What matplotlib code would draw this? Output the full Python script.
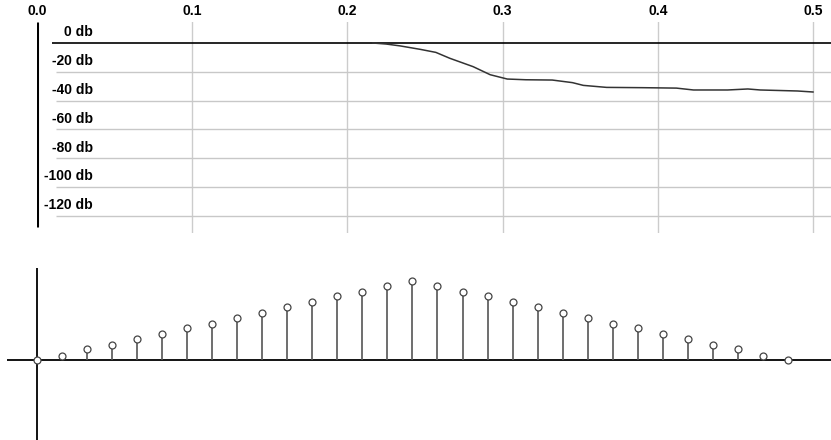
import numpy as np
import matplotlib.pyplot as plt

plt.rcParams['font.family'] = ['Liberation Sans', 'DejaVu Sans']

# frequency response (normalised frequency, dB)
freq = [0.2165, 0.225, 0.234, 0.247, 0.257, 0.266, 0.281, 0.292, 0.303, 0.315,
        0.332, 0.345, 0.352, 0.367, 0.39, 0.412, 0.423, 0.445, 0.458, 0.466,
        0.49, 0.5]
db = [0, -0.7, -2, -4.4, -6.5, -10.6, -16.4, -22, -25, -25.5,
      -25.7, -27.5, -29.4, -30.8, -31, -31.3, -32.6, -32.6, -31.9, -32.6,
      -33.3, -34]
xticks = [0.0, 0.1, 0.2, 0.3, 0.4, 0.5]
db_ticks = [0, -20, -40, -60, -80, -100, -120]

# filter coefficients (impulse response)
half = [0, 0.054, 0.135, 0.19, 0.27, 0.325, 0.40, 0.46, 0.535, 0.60,
        0.67, 0.73, 0.81, 0.865, 0.94, 1.0]
coeffs = half + half[-2::-1]
n = np.arange(len(coeffs))

W, H = 831, 440
fig = plt.figure(figsize=(W / 100, H / 100), dpi=100)

# ---- top: magnitude response
ax = fig.add_axes([37 / W, 1 - 233 / H, 1 - 37 / W, 211 / H])
ax.set_xlim(0, 0.5116)
ax.set_ylim(-131.9, 14.6)
for s in ax.spines.values():
    s.set_visible(False)
ax.xaxis.tick_top()
ax.set_xticks(xticks)
ax.set_xticklabels([f'{t:.1f}' for t in xticks], fontsize=10, fontweight='bold')
ax.tick_params(axis='x', length=0, pad=3)
ax.set_yticks([])
for t in xticks[1:]:
    ax.axvline(t, color='#cccccc', lw=1, zorder=1)
for d in db_ticks:
    if d == 0:
        ax.hlines(d, 0.0097, 0.5116, color='black', lw=1.2, zorder=2)
    else:
        ax.hlines(d, 0.012, 0.5116, color='#c8c8c8', lw=1, zorder=1)
    ax.text(0.036, d + 2.5, f'{d} db', ha='right', va='bottom',
            fontsize=10, fontweight='bold')
ax.vlines(0, -128, 14.6, color='black', lw=2.2, zorder=3)
ax.plot(freq, db, color='#333333', lw=1.1, zorder=4)

# ---- bottom: impulse response stems
bx = fig.add_axes([0, 0, 1, 180 / H])
bx.set_xlim(-37 / 25.03, (W - 37) / 25.03)
bx.set_ylim(-80 / 79, 100 / 79)
bx.axis('off')
bx.hlines(0, -1.2, 40, color='black', lw=1.3, zorder=2)
bx.vlines(0, -2, 92 / 79, color='black', lw=1.3, zorder=2)
bx.vlines(n, 0, coeffs, color='#555555', lw=1.2, zorder=3)
bx.plot(n, coeffs, 'o', ms=5.0, mfc='white', mec='#444444', mew=0.9, zorder=4)

fig.savefig('out.png', dpi=100)
